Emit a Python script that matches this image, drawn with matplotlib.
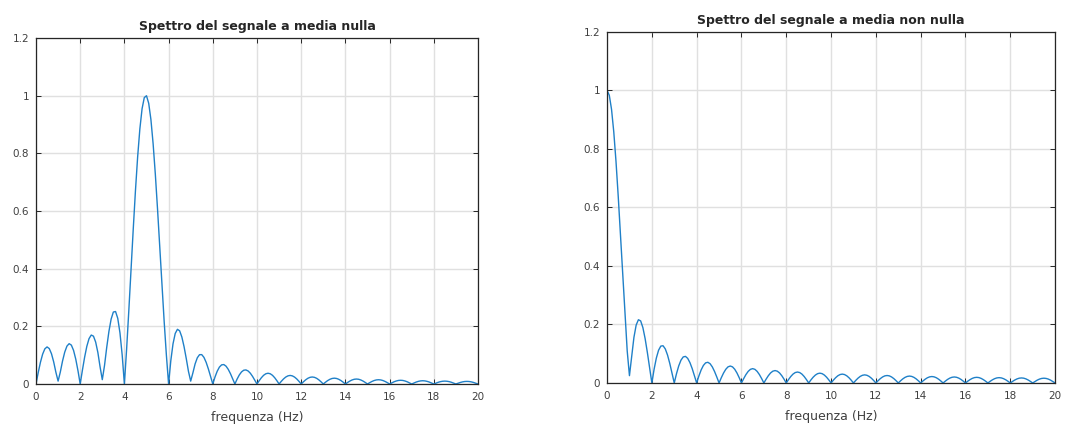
import numpy as np
import matplotlib
matplotlib.use("Agg")
import matplotlib.pyplot as plt

# frequency grid (Hz), 0.1 Hz spacing
freq = np.round(np.arange(201) * 0.1, 1)

# spectrum of the zero-mean signal
spec_zero_mean = [
    0, .0394, .0750, .1034, .1219, .1286, .1229, .1051, .0768, .0407,
    .010, .0413, .0794, .1105, .1314, .1399, .1349, .1165, .0860, .0460,
    0, .0478, .0928, .1307, .1573, .1698, .1660, .1454, .1091, .0593,
    .015, .0639, .1268, .1825, .2252, .2497, .2514, .2277, .1772, .1005,
    0, .1201, .2543, .3956, .5367, .6701, .7883, .8849, .9549, .9935,
    1.0, .9738, .9175, .8334, .7277, .6063, .4760, .3438, .2166, .1003,
    0, .0806, .1393, .1753, .1897, .1845, .1631, .1295, .0881, .0435,
    .010, .0387, .0697, .0910, .1017, .1019, .0924, .0751, .0522, .0263,
    0, .0242, .0443, .0587, .0664, .0674, .0618, .0508, .0357, .0181,
    0, .0170, .0314, .0419, .0478, .0488, .0451, .0373, .0263, .0135,
    0, .0115, .0219, .0302, .0355, .0373, .0355, .0302, .0219, .0115,
    0, .0092, .0175, .0240, .0282, .0297, .0282, .0240, .0175, .0092,
    0, .0075, .0143, .0197, .0231, .0243, .0231, .0197, .0143, .0075,
    0, .0062, .0119, .0163, .0192, .0202, .0192, .0163, .0119, .0062,
    0, .0053, .0101, .0139, .0164, .0172, .0164, .0139, .0101, .0053,
    0, .0046, .0087, .0120, .0141, .0148, .0141, .0120, .0087, .0046,
    0, .0040, .0076, .0104, .0123, .0129, .0123, .0104, .0076, .0040,
    0, .0035, .0066, .0091, .0107, .0113, .0107, .0091, .0066, .0035,
    0, .0031, .0059, .0081, .0095, .0100, .0095, .0081, .0059, .0031,
    0, .0028, .0053, .0073, .0086, .0090, .0086, .0073, .0053, .0028,
    0,
]

# spectrum of the non-zero-mean signal
spec_nonzero_mean = [
    1.0, .9836, .9355, .8584, .7568, .6366, .5045, .3679, .2340, .1093,
    .025, .0894, .1560, .1981, .2162, .2122, .1892, .1515, .1040, .0518,
    0, .0468, .0851, .1120, .1261, .1273, .1164, .0954, .0668, .0339,
    0, .0317, .0585, .0780, .0890, .0909, .0841, .0696, .0493, .0252,
    0, .0240, .0446, .0599, .0688, .0707, .0658, .0548, .0390, .0201,
    0, .0179, .0340, .0468, .0551, .0579, .0551, .0468, .0340, .0179,
    0, .0151, .0288, .0396, .0466, .0490, .0466, .0396, .0288, .0151,
    0, .0131, .0249, .0343, .0403, .0424, .0403, .0343, .0249, .0131,
    0, .0116, .0220, .0303, .0356, .0374, .0356, .0303, .0220, .0116,
    0, .0104, .0197, .0271, .0319, .0335, .0319, .0271, .0197, .0104,
    0, .0094, .0178, .0245, .0288, .0303, .0288, .0245, .0178, .0094,
    0, .0086, .0163, .0224, .0263, .0277, .0263, .0224, .0163, .0086,
    0, .0079, .0150, .0206, .0243, .0255, .0243, .0206, .0150, .0079,
    0, .0073, .0139, .0191, .0224, .0236, .0224, .0191, .0139, .0073,
    0, .0068, .0129, .0178, .0209, .0220, .0209, .0178, .0129, .0068,
    0, .0063, .0121, .0166, .0195, .0205, .0195, .0166, .0121, .0063,
    0, .0060, .0113, .0156, .0184, .0193, .0184, .0156, .0113, .0060,
    0, .0056, .0107, .0147, .0173, .0182, .0173, .0147, .0107, .0056,
    0, .0053, .0101, .0139, .0164, .0172, .0164, .0139, .0101, .0053,
    0, .0050, .0096, .0132, .0155, .0163, .0155, .0132, .0096, .0050,
    0,
]

x_ticks = [0, 2, 4, 6, 8, 10, 12, 14, 16, 18, 20]
y_ticks = [0, 0.2, 0.4, 0.6, 0.8, 1.0, 1.2]
y_tick_labels = ["0", "0.2", "0.4", "0.6", "0.8", "1", "1.2"]
titles = ["Spettro del segnale a media nulla", "Spettro del segnale a media non nulla"]
x_label = "frequenza (Hz)"

LINE = "#1f80c8"
DARK = "#262626"
TICK = "#404040"

fig = plt.figure(figsize=(10.65, 4.26), dpi=100)
ax1 = fig.add_axes([0.0338, 0.0986, 0.415, 0.812])
ax2 = fig.add_axes([0.570, 0.101, 0.4207, 0.824])

for ax, y, title in [(ax1, spec_zero_mean, titles[0]), (ax2, spec_nonzero_mean, titles[1])]:
    ax.plot(freq, y, color=LINE, lw=1.0)
    ax.set_xlim(0, 20)
    ax.set_ylim(0, 1.2)
    ax.set_xticks(x_ticks)
    ax.set_yticks(y_ticks)
    ax.set_yticklabels(y_tick_labels)
    ax.grid(True, color="#e0e0e0", lw=1.0)
    ax.set_axisbelow(True)
    ax.tick_params(direction="in", top=True, right=True, length=3.5, width=0.7,
                   labelsize=7.5, colors=DARK, labelcolor=TICK)
    ax.tick_params(axis="x", pad=6)
    ax.tick_params(axis="y", pad=5)
    for sp in ax.spines.values():
        sp.set_color(DARK)
        sp.set_linewidth(0.9)
    ax.set_title(title, fontsize=9, fontweight="bold", color=DARK, pad=6)
    ax.set_xlabel(x_label, fontsize=9, color=TICK, labelpad=6)

fig.savefig("out.png", dpi=100)
